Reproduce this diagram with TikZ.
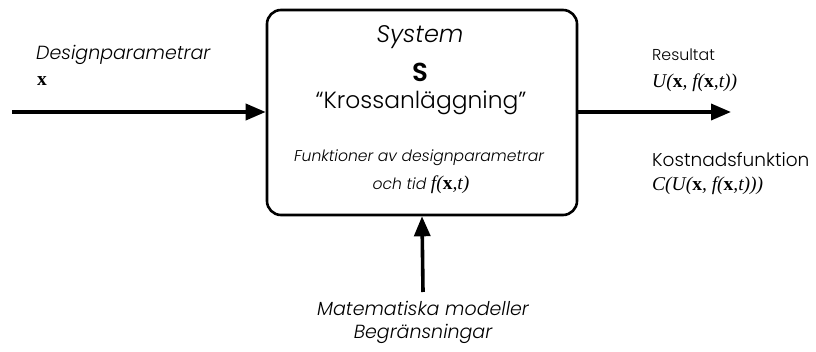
\documentclass[tikz,border=0pt]{standalone}
\usepackage{fontspec}
\setmainfont{Poppins}[UprightFont=* Light,ItalicFont=* Light Italic,BoldFont=* SemiBold]
\newfontfamily\tms{Liberation Serif}
\usepackage{tikz}
\usetikzlibrary{arrows.meta}

\tikzset{
  sysbox/.style={draw,line width=2.6pt,rounded corners=14pt,minimum width=310pt,minimum height=205pt},
  flow/.style={line width=3.6pt,-{Triangle[length=20pt,width=16pt]}},
  lbl/.style={font=\fontsize{19}{23}\selectfont\itshape,inner sep=0pt},
  mth/.style={font=\tms\itshape\fontsize{19.5}{22}\selectfont,inner sep=0pt}
}
\newcommand{\bx}{\textbf{\upshape x}}

\begin{document}
\begin{tikzpicture}[x=1pt,y=1pt]
\useasboundingbox (0,0) rectangle (816,351);
\node[sysbox] (sys) at (422,238.5) {};
% text inside the system
\node[lbl,font=\fontsize{24}{26}\selectfont\itshape] (systxt) at (420,314) {System};
\node[font=\fontsize{26}{28}\selectfont\bfseries,inner sep=0pt] (S) at (420,279) {S};
\node[font=\fontsize{23.4}{26}\selectfont,inner sep=0pt] (kross) at (421,248) {“Krossanläggning”};
\node[lbl,font=\fontsize{15.6}{18}\selectfont\itshape] (funk) at (419,193) {Funktioner av designparametrar};
\node[lbl,font=\fontsize{15.6}{18}\selectfont\itshape] (tid) at (421,166) {och tid {\tms\fontsize{19.5}{22}\selectfont f(\bx,t)}};
% inputs and outputs
\coordinate (in) at (12,239);
\coordinate (out) at (731,239);
\coordinate (mod) at (423,59);
\draw[flow] (in) -- (sys.west |- in);
\draw[flow] (sys.east |- out) -- (out);
\draw[flow] (mod) -- (sys.south);
\node[lbl,anchor=west] (dp) at (36,296) {Designparametrar};
\node[anchor=west,inner sep=0pt] (x) at (37,270) {\tms\bfseries\fontsize{19.5}{22}\selectfont x};
\node[lbl,anchor=west,font=\fontsize{15.8}{18}\selectfont] (res) at (652,296) {Resultat};
\node[mth,anchor=west] (U) at (652,268) {U(\bx, f(\bx,t))};
\node[lbl,anchor=west,font=\fontsize{18.5}{21}\selectfont] (kost) at (652,191) {Kostnadsfunktion};
\node[mth,anchor=west] (C) at (652,165) {C(U(\bx, f(\bx,t)))};
\node[lbl,align=center] (mm) at (423,29) {Matematiska modeller\\Begränsningar};
\end{tikzpicture}
\end{document}
